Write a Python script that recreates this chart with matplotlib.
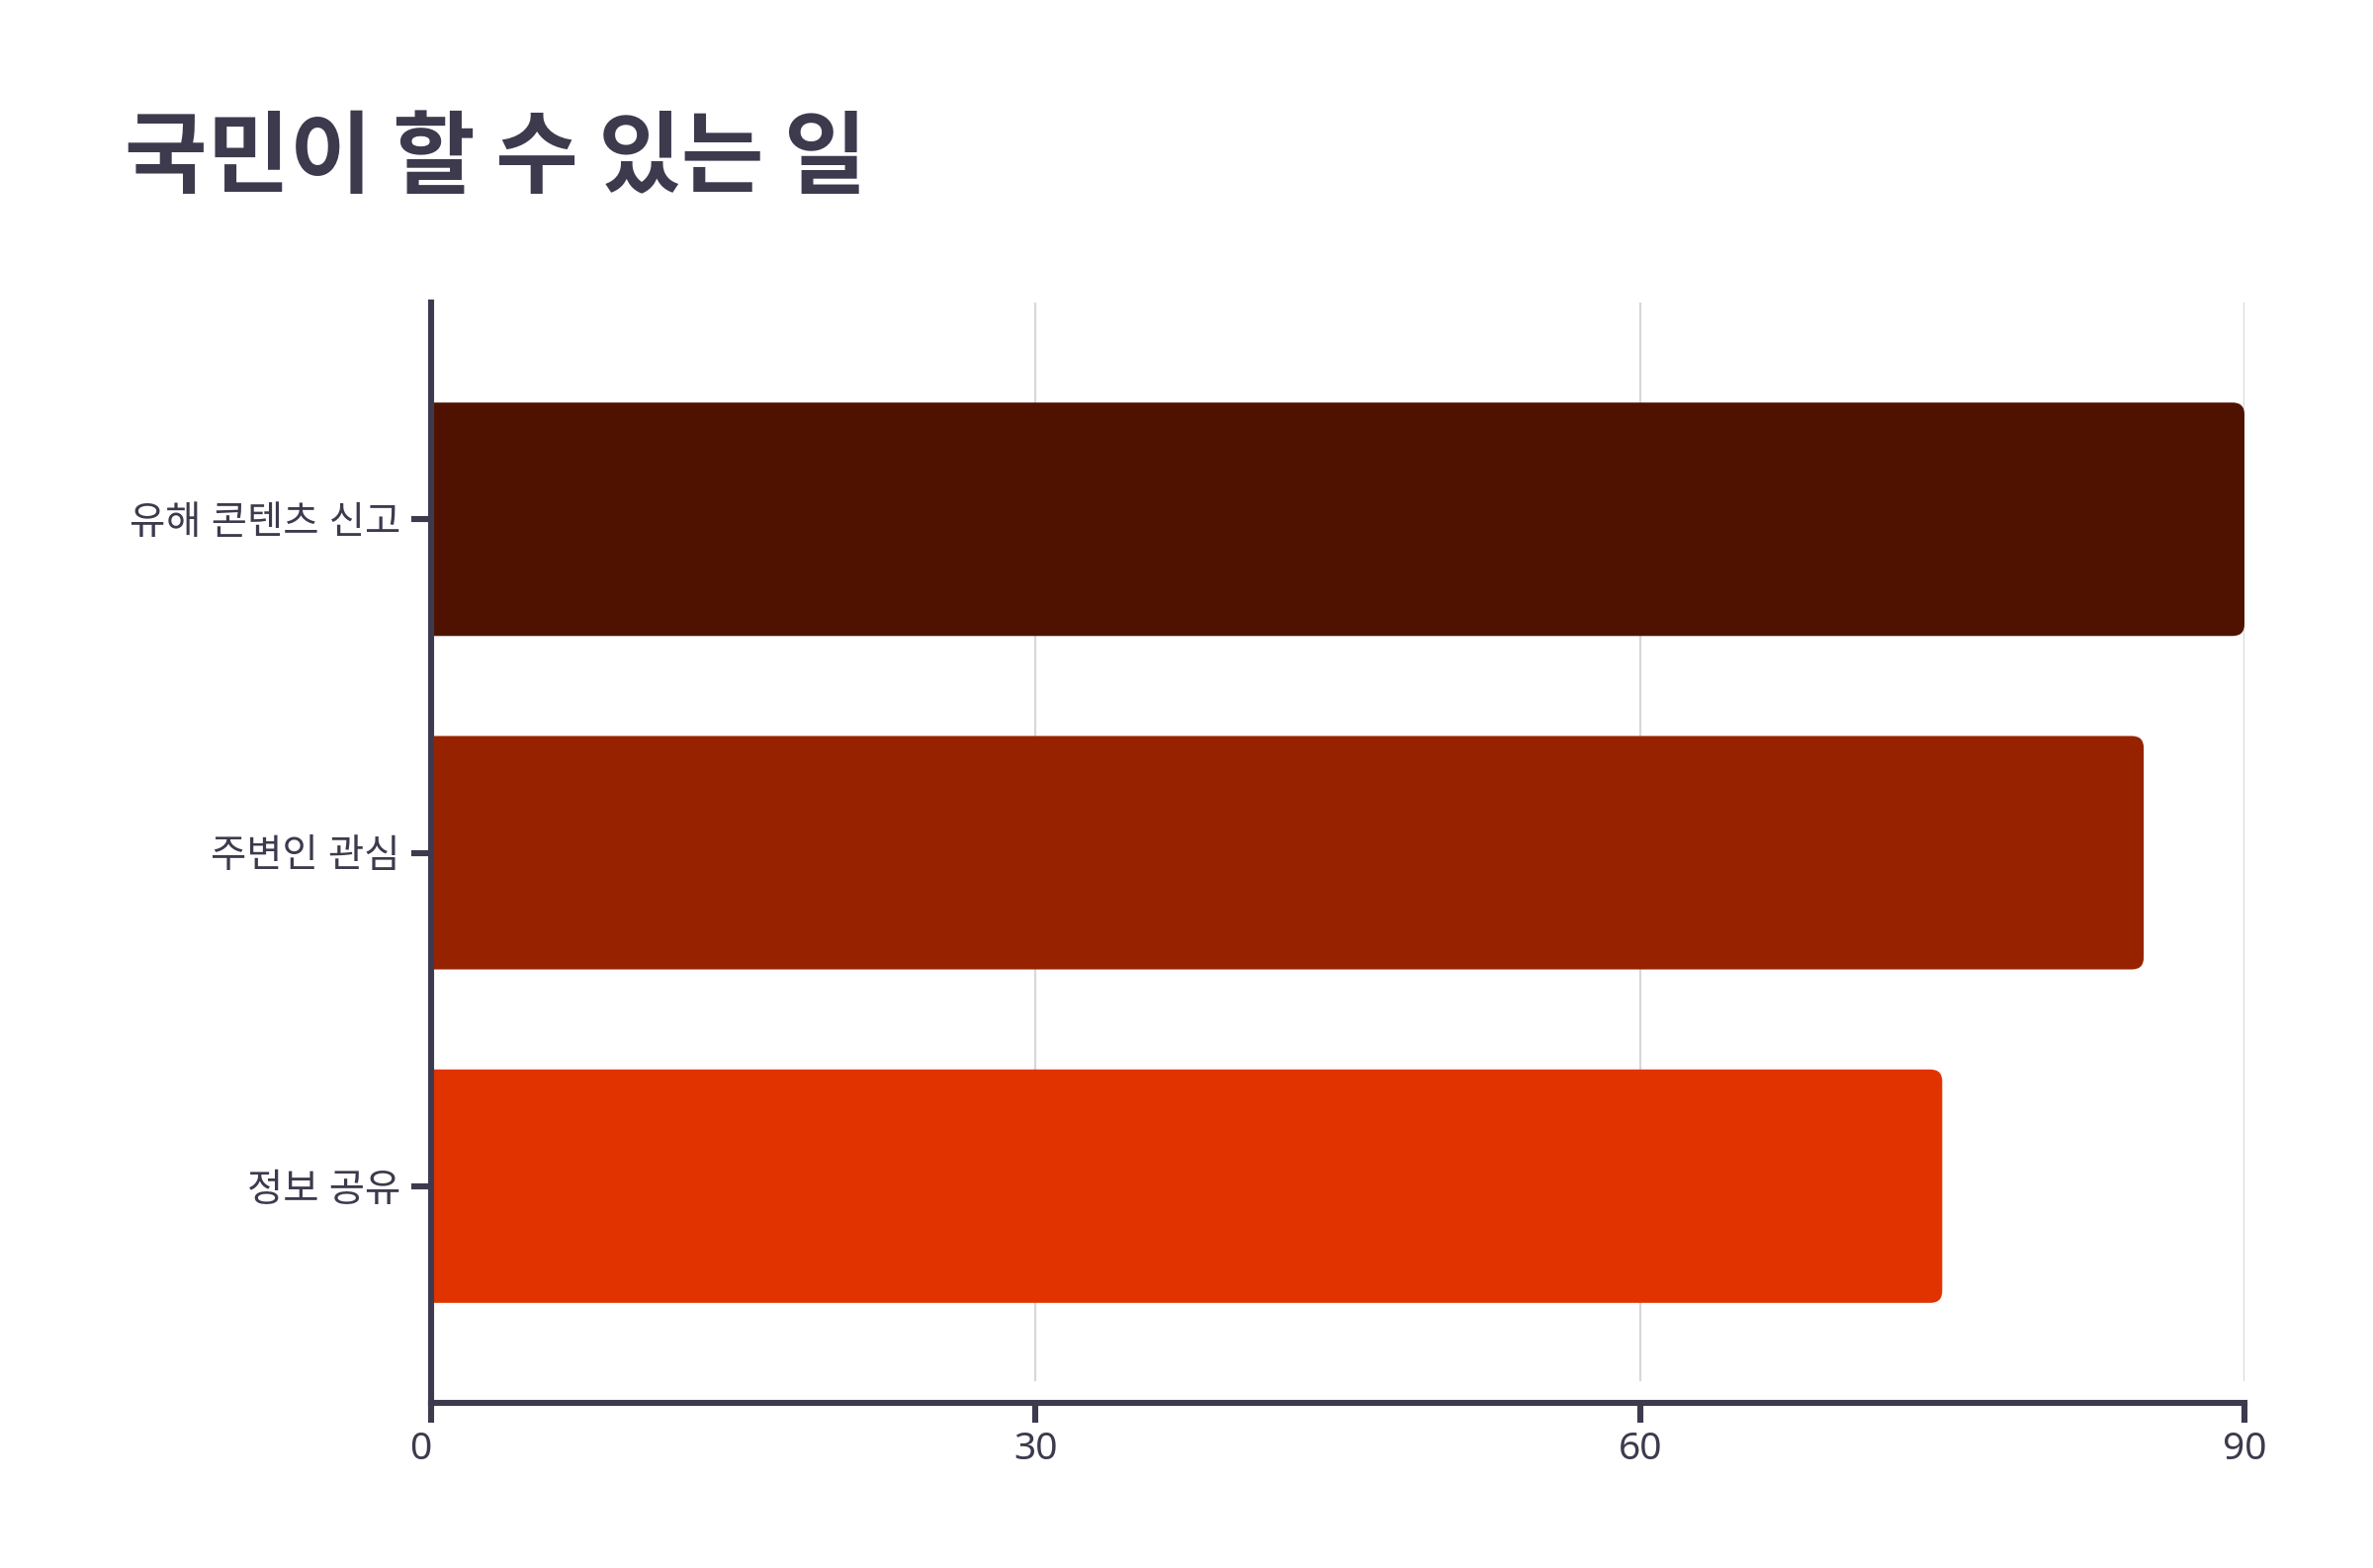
import matplotlib

matplotlib.use("Agg")
import matplotlib.pyplot as plt
from matplotlib.patches import FancyBboxPatch

plt.rcParams["font.family"] = ["Noto Sans", "Noto Sans CJK KR", "DejaVu Sans"]

# data
categories = ["유해 콘텐츠 신고", "주변인 관심", "정보 공유"]
values = [90, 85, 75]
bar_colors = ["#4f1200", "#972200", "#e13300"]
x_ticks = [0, 30, 60, 90]
title = "국민이 할 수 있는 일"

ink = "#3d3a4e"
W, H, DPI = 2400, 1586, 200

fig = plt.figure(figsize=(W / DPI, H / DPI), dpi=DPI)
left, right, top, bottom = 436, 2270, 306, 1419
ax = fig.add_axes([left / W, 1 - bottom / H, (right - left) / W, (bottom - top) / H])

ax.set_xlim(0, 90)
ax.set_ylim(2.65, -0.65)

# gridlines stop a little above the bottom spine
grid_floor = 23 / (bottom - top)
for t in x_ticks[1:]:
    ax.axvline(t, ymin=grid_floor, ymax=1, color="#d8d8dc", linewidth=0.8, zorder=0)

bars = ax.barh(range(len(categories)), values, height=0.7, color=bar_colors)

# swap plain rectangles for ones with rounded right corners
px_x = (right - left) / 90.0   # pixels per x unit
px_y = (bottom - top) / 3.3    # pixels per y unit
radius_px = 12
for rect, c in zip(bars.patches, bar_colors):
    x0, y0 = rect.get_x(), rect.get_y()
    w, h = rect.get_width(), rect.get_height()
    rect.set_visible(False)
    r = radius_px / px_x
    patch = FancyBboxPatch(
        (x0 - 2 * r, y0), w + 2 * r, h,
        boxstyle=f"round,pad=0,rounding_size={r}",
        mutation_aspect=px_x / px_y,
        facecolor=c, edgecolor="none", zorder=1,
    )
    ax.add_patch(patch)

ax.set_yticks(range(len(categories)))
ax.set_yticklabels(categories, fontsize=14.2, color=ink,
                   family=["Noto Sans", "Noto Sans CJK KR"])
ax.set_xticks(x_ticks)
ax.set_xticklabels([str(t) for t in x_ticks], fontsize=14, color=ink)
ax.get_xticklabels()[0].set_horizontalalignment("right")

for side in ("top", "right"):
    ax.spines[side].set_visible(False)
for side in ("left", "bottom"):
    ax.spines[side].set_color(ink)
    ax.spines[side].set_linewidth(2.2)
    ax.spines[side].set_zorder(3)

ax.tick_params(axis="both", length=7.2, width=2.2, color=ink, direction="out")
ax.tick_params(axis="y", pad=4)
ax.tick_params(axis="x", pad=3)

fig.text(126 / W, 1 - 161 / H, title, fontsize=32.7, fontweight="bold", color=ink,
         va="center", ha="left", family=["Noto Sans CJK KR"])

fig.savefig("out.png", dpi=DPI, facecolor="white")
